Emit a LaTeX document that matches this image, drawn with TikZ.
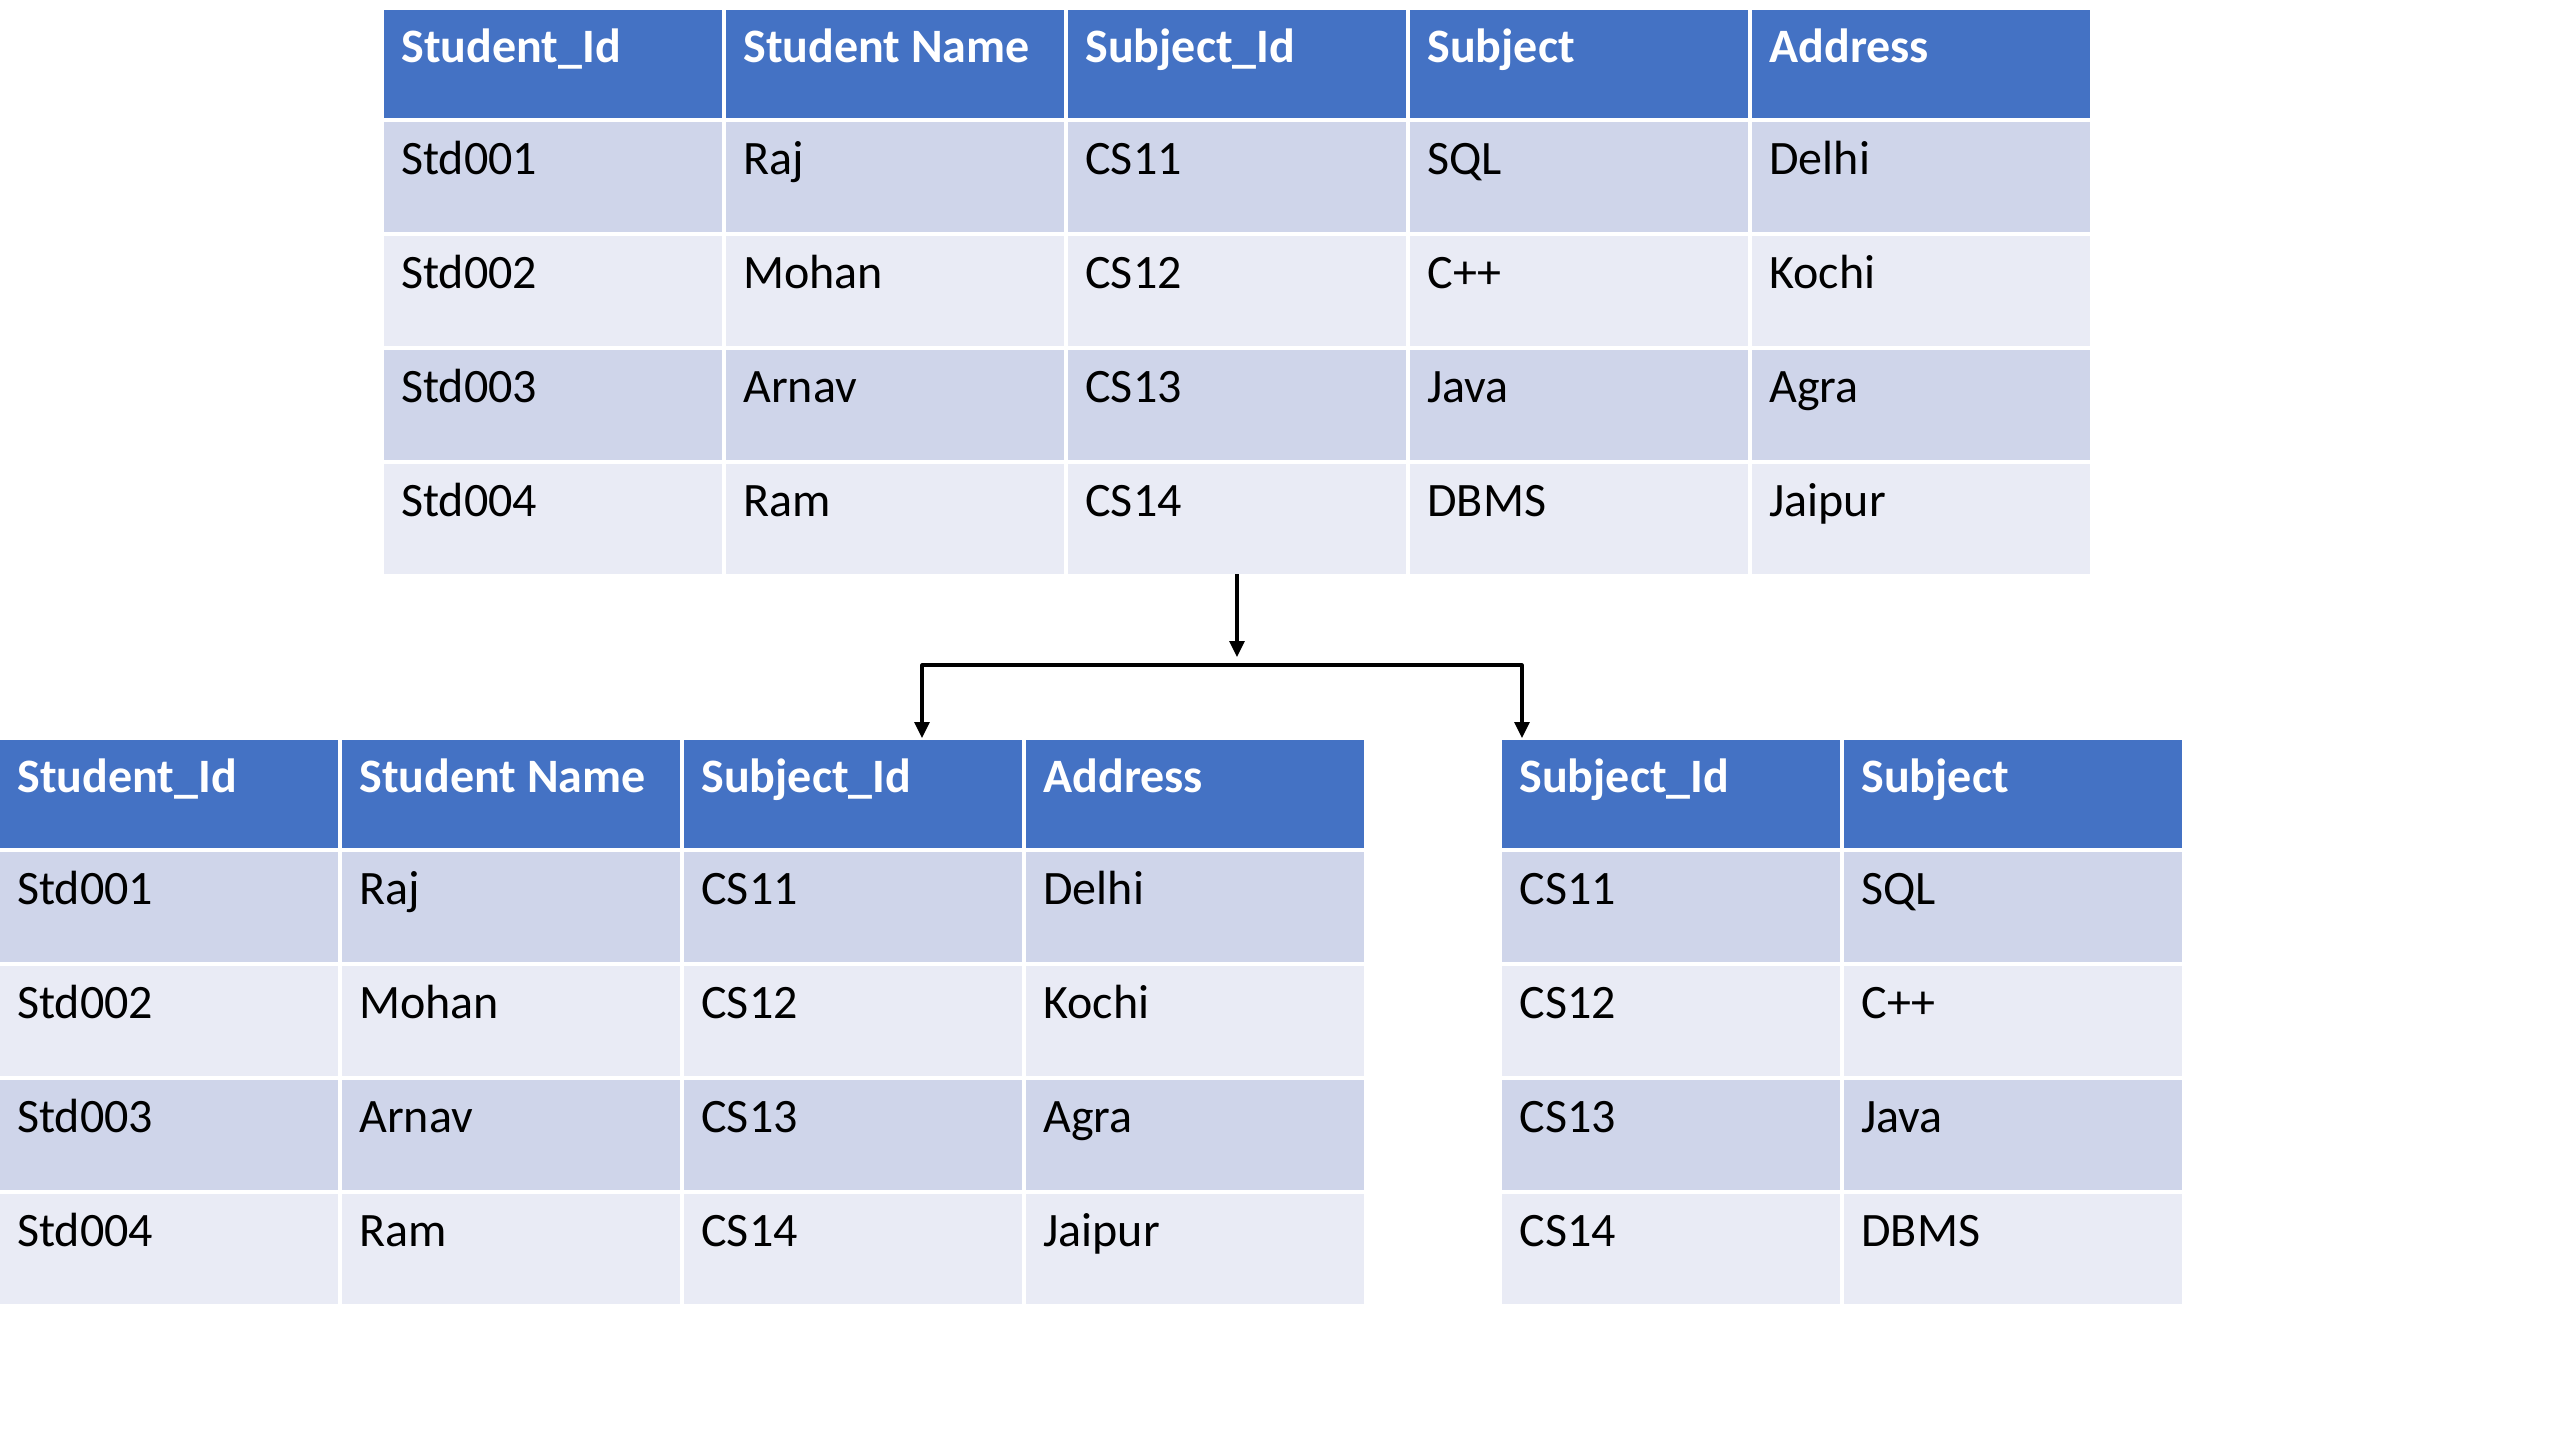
\documentclass[tikz,border=0pt]{standalone}
\usepackage{fontspec}
\setmainfont{Carlito}
\usetikzlibrary{arrows.meta,calc}
\definecolor{hdrblue}{HTML}{4472C4}
\definecolor{rowdark}{HTML}{CFD5EA}
\definecolor{rowlight}{HTML}{E9EBF5}
\tikzset{
  cellbox/.style={draw=none,inner sep=0pt,outer sep=0pt,anchor=north west,minimum width=169pt},
  hdrcell/.style={cellbox,fill=hdrblue,minimum height=54pt},
  darkcell/.style={cellbox,fill=rowdark,minimum height=55pt},
  lightcell/.style={cellbox,fill=rowlight,minimum height=55pt},
  hdrtext/.style={anchor=base west,inner sep=0pt,text=white,font=\fontsize{24}{29}\selectfont\bfseries},
  bodytext/.style={anchor=base west,inner sep=0pt,text=black,font=\fontsize{24}{29}\selectfont},
  conn/.style={line width=1.6pt,draw=black,line join=round},
  connarrow/.style={conn,-{Triangle[width=7.5pt,length=8pt]}}
}
% #1 prefix, #2 x0, #3 ytop, #4 cell style, #5 text style, #6 texts
\newcommand{\tabrow}[6]{%
  \foreach \t [count=\c] in {#6} {
    \node[#4] (#1-\c) at ({#2+342*(\c-1)},#3) {};
    \node[#5] (#1-\c-txt) at ($(#1-\c.north west)+(17,52)$) {\t};
  }%
}
\begin{document}
\begin{tikzpicture}[x=0.5pt,y=-0.5pt]
\fill[white] (0,0) rectangle (2560,1440);
\useasboundingbox (0,0) rectangle (2560,1440);

% top table
\tabrow{th}{384}{10}{hdrcell}{hdrtext}{Student\_Id,Student Name,Subject\_Id,Subject,Address}
\tabrow{t1}{384}{122}{darkcell}{bodytext}{Std001,Raj,CS11,SQL,Delhi}
\tabrow{t2}{384}{236}{lightcell}{bodytext}{Std002,Mohan,CS12,C++,Kochi}
\tabrow{t3}{384}{350}{darkcell}{bodytext}{Std003,Arnav,CS13,Java,Agra}
\tabrow{t4}{384}{464}{lightcell}{bodytext}{Std004,Ram,CS14,DBMS,Jaipur}

% bottom left table
\tabrow{lh}{0}{740}{hdrcell}{hdrtext}{Student\_Id,Student Name,Subject\_Id,Address}
\tabrow{l1}{0}{852}{darkcell}{bodytext}{Std001,Raj,CS11,Delhi}
\tabrow{l2}{0}{966}{lightcell}{bodytext}{Std002,Mohan,CS12,Kochi}
\tabrow{l3}{0}{1080}{darkcell}{bodytext}{Std003,Arnav,CS13,Agra}
\tabrow{l4}{0}{1194}{lightcell}{bodytext}{Std004,Ram,CS14,Jaipur}

% bottom right table
\tabrow{rh}{1502}{740}{hdrcell}{hdrtext}{Subject\_Id,Subject}
\tabrow{r1}{1502}{852}{darkcell}{bodytext}{CS11,SQL}
\tabrow{r2}{1502}{966}{lightcell}{bodytext}{CS12,C++}
\tabrow{r3}{1502}{1080}{darkcell}{bodytext}{CS13,Java}
\tabrow{r4}{1502}{1194}{lightcell}{bodytext}{CS14,DBMS}

% connectors
\coordinate (splittip) at (t4-3.south |- 0,657);
\coordinate (split) at (t4-3.south |- 0,665);
\coordinate (lefttarget) at (922,738);
\coordinate (righttarget) at (1522,738);
\draw[connarrow] (t4-3.south) -- (splittip);
\draw[connarrow] (split) -| (lefttarget);
\draw[connarrow] (split) -| (righttarget);
\end{tikzpicture}
\end{document}
